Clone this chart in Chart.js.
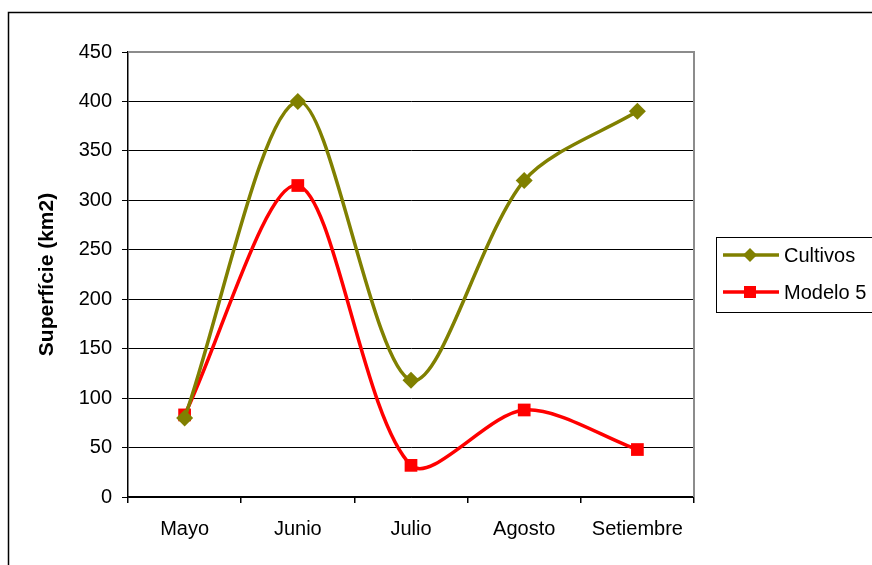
<!DOCTYPE html>
<html>
<head>
<meta charset="utf-8">
<script src="https://cdn.jsdelivr.net/npm/chart.js@4"></script>
<style>
html,body{margin:0;padding:0;background:#fff;}
#wrap{position:relative;width:872px;height:565px;}
</style>
</head>
<body>
<div id="wrap"><canvas id="c" width="872" height="565"></canvas></div>
<script>
const categories = ['Mayo', 'Junio', 'Julio', 'Agosto', 'Setiembre'];
const cultivos = [80, 400, 118, 320, 390];
const modelo5 = [83, 315, 32, 88, 48];
const yTicks = [0, 50, 100, 150, 200, 250, 300, 350, 400, 450];
const seriesNames = ['Cultivos', 'Modelo 5'];

const FONT = 'Liberation Sans, Arial, sans-serif';

const framePlugin = {
  id: 'frame',
  beforeDraw(chart) {
    const ctx = chart.ctx;
    ctx.save();
    ctx.fillStyle = '#fff';
    ctx.fillRect(0, 0, chart.width, chart.height);
    ctx.restore();
  },
  beforeDatasetsDraw(chart) {
    const {ctx, chartArea: a} = chart;
    ctx.save();
    ctx.strokeStyle = '#8c8c8c';
    ctx.lineWidth = 2;
    ctx.beginPath();
    ctx.moveTo(a.left, a.top);
    ctx.lineTo(a.right, a.top);
    ctx.lineTo(a.right, a.bottom);
    ctx.stroke();
    ctx.restore();
  },
  afterDraw(chart) {
    const ctx = chart.ctx;
    ctx.save();
    // outer frame
    ctx.strokeStyle = '#000';
    ctx.lineWidth = 1.5;
    ctx.beginPath();
    ctx.moveTo(8.5, 565);
    ctx.lineTo(8.5, 12.5);
    ctx.lineTo(872, 12.5);
    ctx.stroke();
    // legend box
    ctx.lineWidth = 1;
    ctx.strokeRect(716.5, 237.5, 200, 75);
    const rows = [255, 292];
    chart.data.datasets.forEach((ds, i) => {
      const y = rows[i];
      ctx.strokeStyle = ds.borderColor;
      ctx.lineWidth = 3.5;
      ctx.beginPath();
      ctx.moveTo(723, y);
      ctx.lineTo(779, y);
      ctx.stroke();
      ctx.fillStyle = ds.borderColor;
      if (ds.pointStyle === 'rectRot') {
        ctx.beginPath();
        ctx.moveTo(750, y - 7);
        ctx.lineTo(757, y);
        ctx.lineTo(750, y + 7);
        ctx.lineTo(743, y);
        ctx.closePath();
        ctx.fill();
      } else {
        ctx.fillRect(744, y - 6, 12, 12);
      }
      ctx.fillStyle = '#000';
      ctx.font = '20px ' + FONT;
      ctx.textBaseline = 'middle';
      ctx.textAlign = 'left';
      ctx.fillText(ds.label, 784, y + 1);
    });
    ctx.restore();
  }
};

new Chart(document.getElementById('c'), {
  type: 'line',
  data: {
    labels: categories,
    datasets: [
      {
        label: seriesNames[0],
        data: cultivos,
        borderColor: '#808000',
        backgroundColor: '#808000',
        borderWidth: 3.5,
        pointStyle: 'rectRot',
        pointRadius: 8.5,
        pointHoverRadius: 8.5,
        pointBorderWidth: 0,
        tension: 0.3,
        fill: false
      },
      {
        label: seriesNames[1],
        data: modelo5,
        borderColor: '#ff0000',
        backgroundColor: '#ff0000',
        borderWidth: 3.5,
        pointStyle: 'rect',
        pointRadius: 9,
        pointHoverRadius: 9,
        pointBorderWidth: 0,
        tension: 0.3,
        fill: false
      }
    ]
  },
  options: {
    responsive: false,
    animation: false,
    devicePixelRatio: 1,
    layout: { padding: { left: 8, top: 52, right: 178, bottom: 0 } },
    plugins: { legend: { display: false }, tooltip: { enabled: false } },
    scales: {
      x: {
        offset: true,
        grid: { offset: true, drawOnChartArea: false, drawTicks: true, tickLength: 6, color: '#000', lineWidth: 1.5 },
        border: { color: '#000', width: 1.5 },
        ticks: { color: '#000', font: { family: FONT, size: 20 }, padding: 14, maxRotation: 0 },
        afterFit(s) { s.height = 68; }
      },
      y: {
        min: 0,
        max: 450,
        afterBuildTicks(s) { s.ticks = yTicks.map(v => ({ value: v })); },
        grid: {
          color: (c) => (c.tick && c.tick.value === 450 ? 'rgba(0,0,0,0)' : '#000'),
          tickColor: '#000',
          tickLength: 6,
          lineWidth: 1
        },
        border: { color: '#000', width: 1.5 },
        ticks: { color: '#000', font: { family: FONT, size: 20 }, padding: 10 },
        title: {
          display: true,
          text: 'Superfície (km2)',
          color: '#000',
          font: { family: FONT, size: 21, weight: 'bold' },
          padding: { top: 27, bottom: 0 }
        },
        afterFit(s) { s.width = 120; }
      }
    }
  },
  plugins: [framePlugin]
});
</script>
</body>
</html>
